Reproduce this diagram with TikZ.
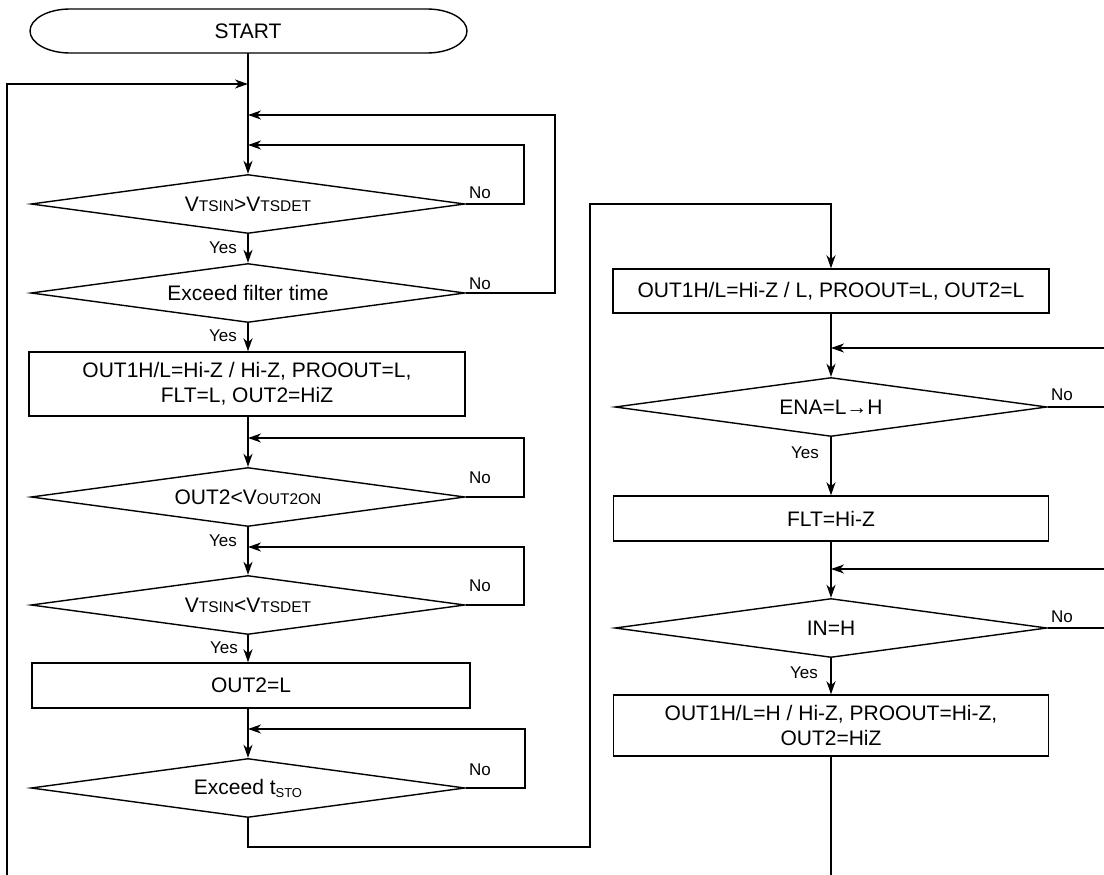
\documentclass[tikz,border=0pt]{standalone}
\usepackage{fontspec}
\setmainfont{Liberation Sans}
\usetikzlibrary{arrows.meta,shapes.geometric}
\newcommand\smtxt[1]{{\fontsize{15.5}{15.5}\selectfont #1}}
\begin{document}
\begin{tikzpicture}[x=1pt,y=-1pt,
  every node/.style={font=\fontsize{21}{25}\selectfont},
  shp/.style={draw, line width=1.4pt},
  boxn/.style={shp, rectangle, inner sep=0pt, align=center},
  dia/.style={shp, diamond, shape aspect=7.4, minimum width=434pt, minimum height=59pt, inner sep=0pt},
  lbl/.style={font=\fontsize{17}{17}\selectfont, inner sep=0pt},
  conn/.style={line width=1.8pt},
  arr/.style={conn, -{Stealth[length=13pt,width=9pt,inset=4pt]}},
]
\useasboundingbox (0,0) rectangle (1104,875);

% START terminal
\node[inner sep=0pt, minimum width=437pt, minimum height=44pt] (start) at (248,31) {START};
\draw[shp] (70,9) -- (427,9)
  .. controls (449.1,9) and (467,18.85) .. (467,31)
  .. controls (467,43.15) and (449.1,53) .. (427,53)
  -- (70,53)
  .. controls (47.9,53) and (30,43.15) .. (30,31)
  .. controls (30,18.85) and (47.9,9) .. (70,9) -- cycle;

% left column
\node[dia] (d1) at (248,204) {V\smtxt{TSIN}>V\smtxt{TSDET}};
\node[dia] (d2) at (248,293) {Exceed filter time};
\node[boxn, minimum width=436pt, minimum height=64pt] (b1) at (247,384) {OUT1H/L=Hi-Z / Hi-Z, PROOUT=L,\\FLT=L, OUT2=HiZ};
\node[dia] (d3) at (248,497) {OUT2<V\smtxt{OUT2ON}};
\node[dia] (d4) at (248,605) {V\smtxt{TSIN}<V\smtxt{TSDET}};
\node[boxn, minimum width=438pt, minimum height=45pt] (b2) at (251,685.5) {OUT2=L};
\node[dia] (d5) at (248,788) {Exceed t\raisebox{-3pt}{\fontsize{13}{13}\selectfont STO}};

% right column
\node[boxn, minimum width=436pt, minimum height=44pt] (r1) at (831,291) {OUT1H/L=Hi-Z / L, PROOUT=L, OUT2=L};
\node[dia, minimum width=432pt] (rd1) at (831,407) {ENA=L→H};
\node[boxn, minimum width=435pt, minimum height=45pt] (r2) at (831,518.5) {FLT=Hi-Z};
\node[dia, minimum width=432pt] (rd2) at (831,628) {IN=H};
\node[boxn, minimum width=435pt, minimum height=61pt] (r3) at (831,725.5) {OUT1H/L=H / Hi-Z, PROOUT=Hi-Z,\\OUT2=HiZ};

% labels
\node[lbl] (no1) at (480,193) {No};
\node[lbl] (no2) at (480,284) {No};
\node[lbl] (no3) at (480,478) {No};
\node[lbl] (no4) at (480,586) {No};
\node[lbl] (no5) at (480,770) {No};
\node[lbl] (no6) at (1062,395) {No};
\node[lbl] (no7) at (1062,617) {No};
\node[lbl] (ye1) at (223,248) {Yes};
\node[lbl] (ye2) at (223,336) {Yes};
\node[lbl] (ye3) at (223,541) {Yes};
\node[lbl] (ye4) at (224,648) {Yes};
\node[lbl] (ye5) at (805,453) {Yes};
\node[lbl] (ye6) at (804,673) {Yes};

% junction coordinates
\coordinate (lft) at (7,875);
\coordinate (j0) at (248,84);
\coordinate (j1) at (248,115);
\coordinate (t1) at (555,115);
\coordinate (j2) at (248,145);
\coordinate (t2) at (524,145);
\coordinate (j3) at (248,438);
\coordinate (t3) at (524,438);
\coordinate (j4) at (248,547);
\coordinate (t4) at (524,547);
\coordinate (j5) at (248,729);
\coordinate (t5) at (525,729);
\coordinate (c1) at (590,847);
\coordinate (c2) at (590,204);
\coordinate (j6) at (831,348);
\coordinate (e6) at (1104,348);
\coordinate (e7) at (1104,407);
\coordinate (j8) at (831,569);
\coordinate (e8) at (1104,569);
\coordinate (e9) at (1104,628);
\coordinate (rend) at (831,875);

% main flow left
\draw[arr] (start.south) -- (d1.north);
\draw[arr] (lft) |- (j0);
\draw[arr] (d1.east) -| (t2) -- (j2);
\draw[arr] (d2.east) -| (t1) -- (j1);
\draw[arr] (d1.south) -- (d2.north);
\draw[arr] (d2.south) -- (d2.south |- b1.north);
\draw[arr] (b1.south -| d3.north) -- (d3.north);
\draw[arr] (d3.east) -| (t3) -- (j3);
\draw[arr] (d3.south) -- (d4.north);
\draw[arr] (d4.east) -| (t4) -- (j4);
\draw[arr] (d4.south) -- (d4.south |- b2.north);
\draw[arr] (b2.south -| d5.north) -- (d5.north);
\draw[arr] (d5.east) -| (t5) -- (j5);
\draw[arr] (d5.south) |- (c1) -- (c2) -| (r1.north);

% right column flow
\draw[arr] (r1.south) -- (rd1.north);
\draw[arr] (e6) -- (j6);
\draw[conn] (rd1.east) -- (e7);
\draw[arr] (rd1.south) -- (r2.north);
\draw[arr] (r2.south) -- (rd2.north);
\draw[arr] (e8) -- (j8);
\draw[conn] (rd2.east) -- (e9);
\draw[arr] (rd2.south) -- (r3.north);
\draw[conn] (r3.south) -- (rend);
\end{tikzpicture}
\end{document}
